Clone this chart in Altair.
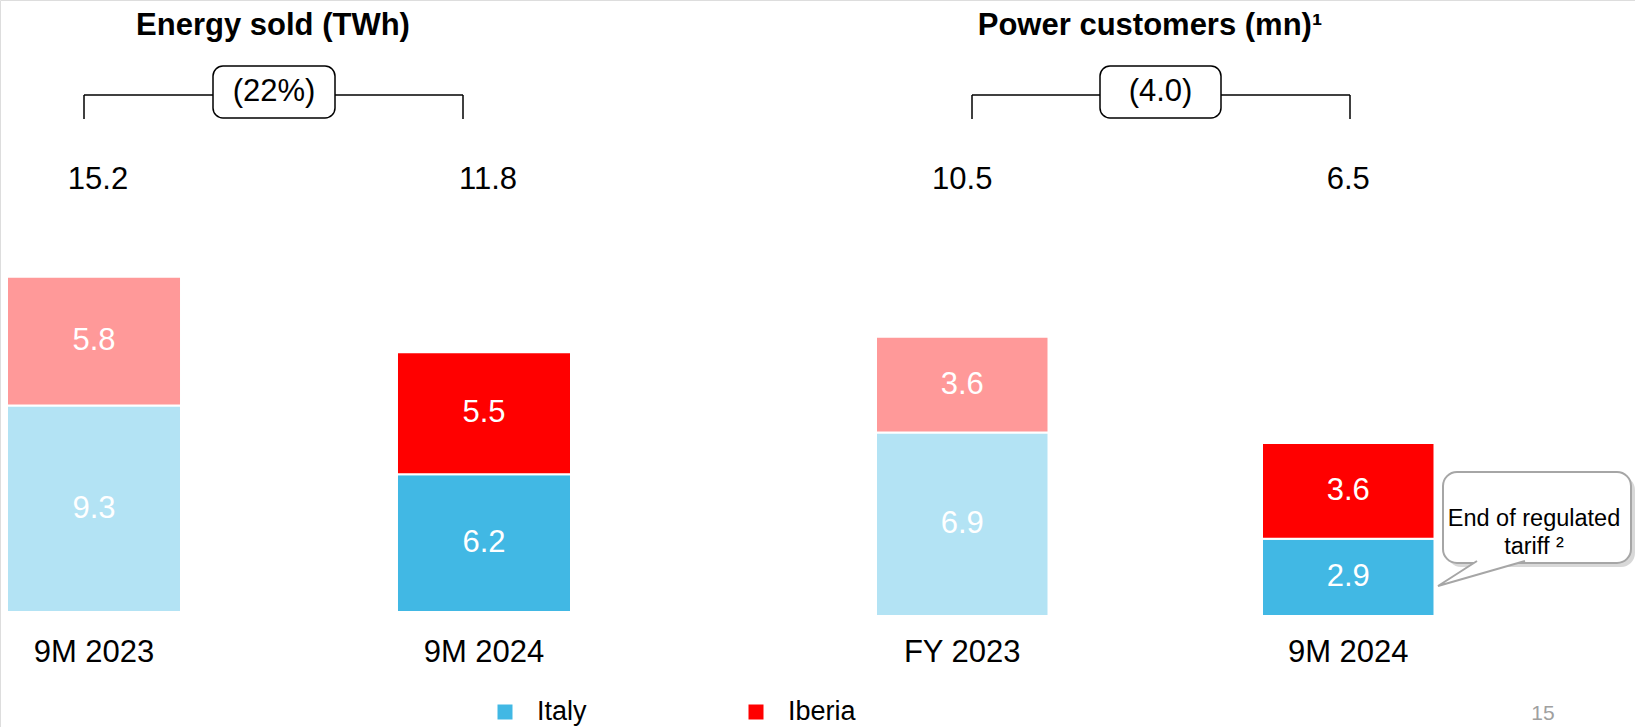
import altair as alt
import pandas as pd

# ---------------- data ----------------
energy_periods = ["9M 2023", "9M 2024"]
energy_italy = [9.3, 6.2]
energy_iberia = [5.8, 5.5]
energy_totals = ["15.2", "11.8"]
energy_change = "(22%)"
energy_title = "Energy sold (TWh)"

cust_periods = ["FY 2023", "9M 2024"]
cust_italy = [6.9, 2.9]
cust_iberia = [3.6, 3.6]
cust_totals = ["10.5", "6.5"]
cust_change = "(4.0)"
cust_title = "Power customers (mn)¹"

regions = ["Italy", "Iberia"]
note_text = "End of regulated\ntariff ²"
page_number = "15"

# ---------------- styles ----------------
FONT = "Liberation Sans"
tone_domain = ["Italy prior", "Iberia prior", "Italy", "Iberia"]
tone_range = ["#B3E3F4", "#FF9999", "#41B8E4", "#FF0000"]
legend_colors = ["#41B8E4", "#FF0000"]


def segments(periods, italy, iberia):
    rows = []
    for i, p in enumerate(periods):
        suffix = " prior" if i == 0 else ""
        base = 0.0
        for reg, v in (("Italy", italy[i]), ("Iberia", iberia[i])):
            rows.append(dict(period=p, region=reg, value=v, y0=base, y1=base + v,
                             ymid=base + v / 2, tone=reg + suffix, label=f"{v:.1f}"))
            base += v
    return pd.DataFrame(rows)


def panel(periods, italy, iberia, totals, change, title, lay):
    xs = alt.Scale(type="band", domain=periods, range=lay["x_range"],
                   paddingInner=lay["pad_inner"], paddingOuter=0)
    ys = alt.Scale(domain=[0, lay["y_bottom"] / lay["ppu"]], range=[lay["y_bottom"], 0],
                   nice=False, zero=True)
    X = alt.X("period:N", scale=xs, axis=None)
    seg = segments(periods, italy, iberia)
    tot = pd.DataFrame({"period": periods, "total": totals})
    one = pd.DataFrame({"change": [change], "title": [title]})

    bars = alt.Chart(seg).mark_bar(stroke="white", strokeWidth=2).encode(
        x=X,
        y=alt.Y("y0:Q", scale=ys, axis=None),
        y2="y1:Q",
        color=alt.Color("tone:N", scale=alt.Scale(domain=tone_domain, range=tone_range), legend=None),
    )
    seg_labels = alt.Chart(seg).mark_text(color="white", fontSize=31, baseline="middle", font=FONT).encode(
        x=X, y=alt.Y("ymid:Q", scale=ys, axis=None), text="label:N"
    )
    total_labels = alt.Chart(tot).mark_text(color="black", fontSize=31, baseline="middle", font=FONT,
                                            dx=lay["total_dx"]).encode(
        x=X, y=alt.value(180), text="total:N"
    )
    cat_labels = alt.Chart(tot).mark_text(color="black", fontSize=31, baseline="middle", font=FONT).encode(
        x=X, y=alt.value(653), text="period:N"
    )
    bx1, bx2 = lay["bracket"]
    hline = alt.Chart(one).mark_rule(color="black", strokeWidth=1.5).encode(
        x=alt.value(bx1), x2=alt.value(bx2), y=alt.value(95)
    )
    vl = alt.Chart(one).mark_rule(color="black", strokeWidth=1.5).encode(
        x=alt.value(bx1), y=alt.value(95), y2=alt.value(119)
    )
    vr = alt.Chart(one).mark_rule(color="black", strokeWidth=1.5).encode(
        x=alt.value(bx2), y=alt.value(95), y2=alt.value(119)
    )
    k1, k2 = lay["box"]
    box = alt.Chart(one).mark_rect(fill="white", stroke="black", strokeWidth=1.5, cornerRadius=10).encode(
        x=alt.value(k1), x2=alt.value(k2), y=alt.value(66), y2=alt.value(118)
    )
    change_txt = alt.Chart(one).mark_text(color="black", fontSize=31, baseline="middle", font=FONT).encode(
        x=alt.value((k1 + k2) / 2), y=alt.value(92), text="change:N"
    )
    title_txt = alt.Chart(one).mark_text(color="black", fontSize=31, fontWeight="bold",
                                         baseline="middle", font=FONT).encode(
        x=alt.value(lay["title_x"]), y=alt.value(26), text="title:N"
    )
    return [bars, seg_labels, total_labels, cat_labels, hline, vl, vr, box, change_txt, title_txt]


left = panel(energy_periods, energy_italy, energy_iberia, energy_totals, energy_change, energy_title,
             dict(x_range=[7, 571], pad_inner=0.5538, y_bottom=612, ppu=22.2,
                  bracket=(84, 463), box=(213, 335), title_x=273, total_dx=4))
right = panel(cust_periods, cust_italy, cust_iberia, cust_totals, cust_change, cust_title,
              dict(x_range=[876, 1434.5], pad_inner=0.5531, y_bottom=616, ppu=26.6,
                   bracket=(972, 1350), box=(1100, 1221), title_x=1150, total_dx=0))

# ---------------- callout ----------------
note_df = pd.DataFrame({"note": [note_text]})
shadow = alt.Chart(note_df).mark_rect(fill="#B8B8B8", opacity=0.55, cornerRadius=14).encode(
    x=alt.value(1447), x2=alt.value(1635), y=alt.value(476), y2=alt.value(567)
)
note_box = alt.Chart(note_df).mark_rect(fill="white", stroke="#A6A6A6", strokeWidth=2, cornerRadius=14).encode(
    x=alt.value(1443), x2=alt.value(1631), y=alt.value(472), y2=alt.value(563)
)
pointer = alt.Chart(note_df).mark_point(
    shape="M39,-25 L0,0 L87,-25", size=4, fill="white", fillOpacity=1, opacity=1,
    stroke="#A6A6A6", strokeWidth=2
).encode(x=alt.value(1438), y=alt.value(586))
note_txt = alt.Chart(note_df).mark_text(color="black", fontSize=23.5, lineHeight=28, lineBreak="\n",
                                        baseline="middle", font=FONT).encode(
    x=alt.value(1534), y=alt.value(519), text="note:N"
)

# ---------------- legend ----------------
leg_df = pd.DataFrame({"label": regions, "color": legend_colors})
LX = alt.X("label:N", scale=alt.Scale(type="point", domain=regions, range=[505, 756], padding=0), axis=None)
leg_sq = alt.Chart(leg_df).mark_square(size=225, opacity=1, filled=True).encode(
    x=LX, y=alt.value(712), color=alt.Color("color:N", scale=None, legend=None)
)
leg_txt = alt.Chart(leg_df).mark_text(align="left", baseline="middle", fontSize=27, dx=32,
                                      color="black", font=FONT).encode(
    x=LX, y=alt.value(712), text="label:N"
)

page_df = pd.DataFrame({"page": [page_number]})
page_txt = alt.Chart(page_df).mark_text(color="#A0A0A0", fontSize=21, baseline="middle", font=FONT).encode(
    x=alt.value(1543), y=alt.value(714), text="page:N"
)

chart = alt.layer(
    *left, *right, shadow, note_box, pointer, note_txt, leg_sq, leg_txt, page_txt
).resolve_scale(
    x="independent", y="independent"
).properties(
    width=1635, height=727, padding=0, autosize=alt.AutoSizeParams(type="none")
).configure_view(stroke=None).configure(font=FONT, background="white")

chart.save("out.html", embed_options={"renderer": "svg", "actions": False})
